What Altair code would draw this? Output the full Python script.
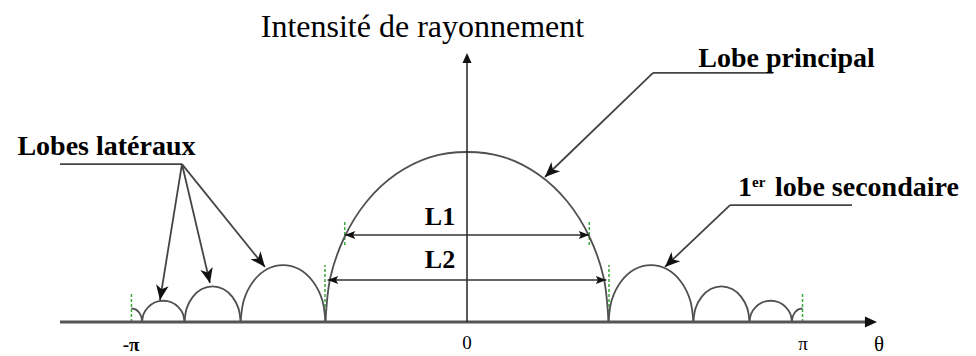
import math
import altair as alt
import pandas as pd

# ---------------- data: theta (rad) and relative intensity ----
MAIN_T = [-1.325, -1.280, -1.147, -0.937, -0.663, -0.343, 0.0, 0.343, 0.663, 0.937, 1.147, 1.280, 1.325]
MAIN_I = [0.0, 0.26, 0.50, 0.71, 0.87, 0.97, 1.0, 0.97, 0.87, 0.71, 0.50, 0.26, 0.0]

R1_T = [1.325, 1.355, 1.441, 1.570, 1.722, 1.875, 2.004, 2.090, 2.120]
R1_I = [0.0, 0.128, 0.237, 0.310, 0.335, 0.310, 0.237, 0.128, 0.0]
R2_T = [2.120, 2.140, 2.197, 2.282, 2.382, 2.483, 2.568, 2.625, 2.645]
R2_I = [0.0, 0.080, 0.148, 0.194, 0.210, 0.194, 0.148, 0.080, 0.0]
R3_T = [2.645, 2.660, 2.703, 2.768, 2.844, 2.920, 2.985, 3.028, 3.043]
R3_I = [0.0, 0.048, 0.088, 0.116, 0.125, 0.116, 0.088, 0.048, 0.0]
RE_T = [3.043, 3.050, 3.072, 3.104, 3.142]
RE_I = [0.0, 0.031, 0.057, 0.074, 0.080]

LF1_T = [-2.120, -2.090, -2.004, -1.875, -1.722, -1.570, -1.441, -1.355, -1.325]
LF1_I = [0.0, 0.128, 0.237, 0.310, 0.335, 0.310, 0.237, 0.128, 0.0]
LF2_T = [-2.645, -2.625, -2.568, -2.483, -2.382, -2.282, -2.197, -2.140, -2.120]
LF2_I = [0.0, 0.080, 0.148, 0.194, 0.210, 0.194, 0.148, 0.080, 0.0]
LF3_T = [-3.043, -3.028, -2.985, -2.920, -2.844, -2.768, -2.703, -2.660, -2.645]
LF3_I = [0.0, 0.048, 0.088, 0.116, 0.125, 0.116, 0.088, 0.048, 0.0]
LE_T = [-3.142, -3.104, -3.072, -3.050, -3.043]
LE_I = [0.080, 0.074, 0.057, 0.031, 0.0]

# green dashed markers (theta, from, to)
DASH_T = [-3.142, 3.142, -1.33, 1.33, -1.145, 1.145]
DASH_I0 = [0.0, 0.0, 0.0, 0.0, 0.453, 0.453]
DASH_I1 = [0.17, 0.17, 0.335, 0.335, 0.60, 0.60]

# widths L1 / L2
WID_LABELS = ["L1", "L2"]
WID_HALF = [1.145, 1.305]
WID_I = [0.512, 0.247]
WID_TEXT_I = [0.571, 0.318]

# tick labels
TICK_TEXT = ["-π", "0", "π"]
TICK_T = [-3.146, 0.0, 3.146]

# ---------------- layout (pixel mapping) ----------------
PX0, KX = 467.0, 106.79   # page x of theta = 0, px per rad
PY0, KY = 322.0, 170.0    # page y of I = 0, px per unit
W, H = 960, 340
XD = [(8 - PX0) / KX, (8 + W - PX0) / KX]
YD = [(PY0 - 8 - H) / KY, (PY0 - 8) / KY]

X = alt.X("t:Q", scale=alt.Scale(domain=XD, nice=False, zero=False), axis=None)
Y = alt.Y("I:Q", scale=alt.Scale(domain=YD, nice=False, zero=False), axis=None)
X2 = alt.X2("t2:Q")
Y2 = alt.Y2("I2:Q")

SERIF = "Liberation Serif"
LINE = "#505050"
DARK = "#333333"

# ---------------- curves ----------------
curves = [("main", MAIN_T, MAIN_I), ("r1", R1_T, R1_I), ("r2", R2_T, R2_I), ("r3", R3_T, R3_I),
          ("re", RE_T, RE_I), ("l1", LF1_T, LF1_I), ("l2", LF2_T, LF2_I), ("l3", LF3_T, LF3_I),
          ("le", LE_T, LE_I)]
rows = []
for name, ts, Is in curves:
    for k, (t, i) in enumerate(zip(ts, Is)):
        rows.append({"lobe": name, "k": k, "t": t, "I": i})
lobes = alt.Chart(pd.DataFrame(rows)).mark_line(
    interpolate="cardinal", color=LINE, strokeWidth=1.8
).encode(x=X, y=Y, detail="lobe:N", order="k:Q")

dashes = alt.Chart(pd.DataFrame({"t": DASH_T, "I": DASH_I0, "I2": DASH_I1})).mark_rule(
    color="#3aaa3a", strokeWidth=1.5, strokeDash=[3, 2]
).encode(x=X, y=Y, y2=Y2)

# ---------------- segments (axes, leaders, arrows) ----------------
AX_X = (-3.811, 0.0, 3.80, 0.0)
AX_Y = (0.0, 0.0, 0.0, 1.55)
LAT_ORIGIN = (-2.669, 0.929)
LAT_TIPS = [(-2.875, 0.129), (-2.407, 0.229), (-1.892, 0.324)]
LAT_BAR = (-3.811, 0.929, -2.669, 0.929)
PRI_BAR = (1.742, 1.465, 2.866, 1.465)
PRI_TIP = (0.730, 0.853)
SEC_BAR = (2.463, 0.688, 3.605, 0.688)
SEC_TIP = (1.854, 0.324)

def seg_df(segs):
    return pd.DataFrame([{"t": a, "I": b, "t2": c, "I2": d} for a, b, c, d in segs])

axis_x = alt.Chart(seg_df([AX_X])).mark_rule(color="#555555", strokeWidth=2.8).encode(x=X, y=Y, x2=X2, y2=Y2)
axis_y = alt.Chart(seg_df([AX_Y])).mark_rule(color="#222222", strokeWidth=1.5).encode(x=X, y=Y, x2=X2, y2=Y2)

leader_segs = [LAT_BAR, PRI_BAR, SEC_BAR]
leader_segs += [(LAT_ORIGIN[0], LAT_ORIGIN[1], tx, ti) for tx, ti in LAT_TIPS]
leader_segs += [(PRI_BAR[0], PRI_BAR[1], PRI_TIP[0], PRI_TIP[1])]
leader_segs += [(SEC_BAR[0], SEC_BAR[1], SEC_TIP[0], SEC_TIP[1])]
leaders = alt.Chart(seg_df(leader_segs)).mark_rule(color="#444444", strokeWidth=1.8).encode(
    x=X, y=Y, x2=X2, y2=Y2)

width_segs = [(-h, i, h, i) for h, i in zip(WID_HALF, WID_I)]
widths = alt.Chart(seg_df(width_segs)).mark_rule(color=DARK, strokeWidth=1.5).encode(
    x=X, y=Y, x2=X2, y2=Y2)

def ang(t1, i1, t2, i2):
    dx = (t2 - t1) * KX
    dy = -(i2 - i1) * KY
    return math.degrees(math.atan2(dy, dx)) % 360

def heads(pts, path, size, color):
    df = pd.DataFrame([{"t": t, "I": i, "ang": a} for t, i, a in pts])
    return alt.Chart(df).mark_point(
        shape=path, size=size, filled=True, color=color, opacity=1, strokeWidth=0
    ).encode(x=X, y=Y, angle=alt.Angle("ang:Q", scale=None))

HEAD_BIG = "M0,0L-2,-0.85L-1.45,0L-2,0.85Z"
HEAD_SMALL = "M0,0L-2,-0.75L-1.6,0L-2,0.75Z"
HEAD_AXIS = "M0,0L-2,-0.9L-2,0.9Z"

big_pts = [(tx, ti, ang(LAT_ORIGIN[0], LAT_ORIGIN[1], tx, ti)) for tx, ti in LAT_TIPS]
big_pts.append((PRI_TIP[0], PRI_TIP[1], ang(PRI_BAR[0], PRI_BAR[1], PRI_TIP[0], PRI_TIP[1])))
big_pts.append((SEC_TIP[0], SEC_TIP[1], ang(SEC_BAR[0], SEC_BAR[1], SEC_TIP[0], SEC_TIP[1])))
heads_big = heads(big_pts, HEAD_BIG, 225, "#111111")

small_pts = []
for h, i in zip(WID_HALF, WID_I):
    small_pts += [(-h, i, 180.0), (h, i, 0.0)]
heads_small = heads(small_pts, HEAD_SMALL, 110, "#111111")

heads_xaxis = heads([(3.839, 0.0, 0.0)], HEAD_AXIS, 144, "#111111")
heads_yaxis = heads([(0.0, 1.582, 270.0)], HEAD_AXIS, 100, "#111111")

# ---------------- texts ----------------
def text_layer(items, size, weight="normal", align="center"):
    df = pd.DataFrame([{"t": t, "I": i, "txt": s} for s, t, i in items])
    return alt.Chart(df).mark_text(
        font=SERIF, fontSize=size, fontWeight=weight, align=align, baseline="alphabetic", color="black"
    ).encode(x=X, y=Y, text="txt:N")

title = text_layer([("Intensité de rayonnement", -0.417, 1.679)], 32)
labels_bold = text_layer([("Lobe principal", 2.992, 1.50), ("Lobes latéraux", -3.376, 0.982)], 28, "bold")
sec_one = text_layer([("1", 2.603, 0.741)], 28, "bold")
sec_sup = text_layer([("er", 2.669, 0.794)], 15, "bold", "left")
sec_rest = text_layer([("lobe secondaire", 2.885, 0.741)], 28, "bold", "left")
wid_text = text_layer([(s, -0.253, i) for s, i in zip(WID_LABELS, WID_TEXT_I)], 26, "bold")
ticks_b = text_layer([(TICK_TEXT[0], TICK_T[0], -0.171)], 19, "bold")
ticks_r = text_layer([(TICK_TEXT[1], TICK_T[1], -0.159), (TICK_TEXT[2], TICK_T[2], -0.165)], 19)
theta_lbl = text_layer([("θ", 3.858, -0.17)], 21)

chart = alt.layer(
    dashes, lobes, axis_x, axis_y, leaders, widths,
    heads_big, heads_small, heads_xaxis, heads_yaxis,
    title, labels_bold, sec_one, sec_sup, sec_rest, wid_text, ticks_b, ticks_r, theta_lbl
).properties(
    width=W, height=H, autosize="none",
    padding={"left": 0, "top": 0, "right": 0, "bottom": 8}
).configure_view(stroke=None)

chart.save("out.html", embed_options={"renderer": "svg", "actions": False})
